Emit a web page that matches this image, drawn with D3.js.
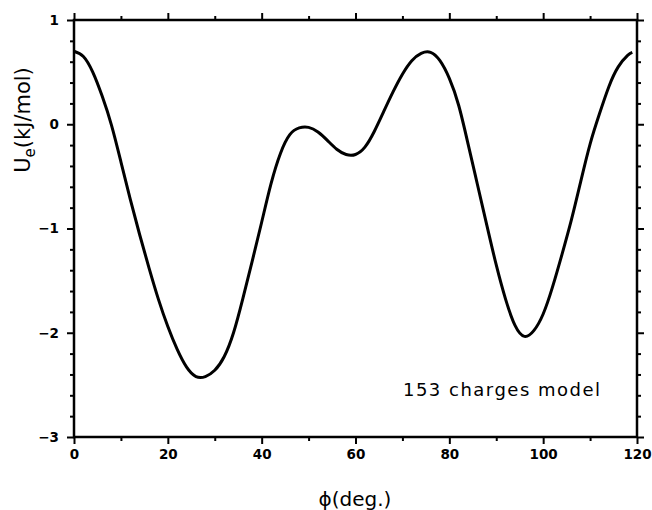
<!DOCTYPE html>
<html>
<head>
<script src="https://d3js.org/d3.v7.min.js"></script>
<style>
  body { margin: 0; background: #fff; }
  .axis text { font-family: "DejaVu Sans", sans-serif; font-weight: bold; font-size: 13.5px; fill: #000; }
  .axis line { stroke: #000; stroke-width: 2px; }
  .axis path { display: none; }
</style>
</head>
<body>
<svg class="chart"></svg>
<script>
// torsion angle (deg) and electrostatic energy (kJ/mol)
var phi = [0, 2, 4, 6, 8, 10, 12, 14, 16, 18, 20, 22, 24, 26, 28, 30, 32, 34, 36, 38, 40, 42, 44, 46, 48,
           50, 52, 54, 56, 58, 60, 62, 64, 66, 68, 70, 72, 74, 76, 78, 80, 82, 84, 86, 88, 90,
           92, 94, 96, 98, 100, 102, 104, 106, 108, 110, 112, 114, 116, 118, 119];
var energy = [0.70, 0.65, 0.50, 0.27, -0.01, -0.36, -0.72, -1.06, -1.38, -1.68, -1.94, -2.16, -2.33, -2.42,
              -2.42, -2.36, -2.23, -2.00, -1.67, -1.31, -0.94, -0.57, -0.28, -0.10, -0.035,
              -0.03, -0.075, -0.155, -0.24, -0.29, -0.29, -0.22, -0.07, 0.12, 0.31, 0.48, 0.61, 0.68,
              0.69, 0.61, 0.44, 0.18, -0.19, -0.58, -0.97, -1.35, -1.68, -1.93, -2.035,
              -1.98, -1.82, -1.56, -1.25, -0.92, -0.55, -0.19, 0.10, 0.36, 0.55, 0.66, 0.69];
var xTicks = [0, 20, 40, 60, 80, 100, 120];
var yTicks = [-3, -2, -1, 0, 1];
var label = "153 charges model";

var svgWidth = 652, svgHeight = 510,
    margin = {top: 20, right: 15, bottom: 73, left: 74},
    width = svgWidth - margin.left - margin.right,
    height = svgHeight - margin.top - margin.bottom;

var x = d3.scaleLinear().domain([0, 120]).range([0, width]);
var y = d3.scaleLinear().domain([-3, 1]).range([height, 0]);

var svg = d3.select(".chart").attr("width", svgWidth).attr("height", svgHeight);
var g = svg.append("g").attr("transform", "translate(" + margin.left + "," + margin.top + ")");

var xMinor = d3.range(10, 120, 20);
var yMinor = d3.range(-3, 1, 0.2).filter(d => Math.abs(d - Math.round(d)) > 1e-6);
var fmt = d => d < 0 ? "\u2212" + Math.abs(d) : d;

// bottom
g.append("g").attr("class", "axis").attr("transform", "translate(0," + height + ")")
  .call(d3.axisBottom(x).tickValues(xTicks).tickSize(7).tickPadding(5));
g.append("g").attr("class", "axis").attr("transform", "translate(0," + height + ")")
  .call(d3.axisBottom(x).tickValues(xMinor).tickSize(4).tickFormat(""));
// top
g.append("g").attr("class", "axis")
  .call(d3.axisTop(x).tickValues(xTicks).tickSize(7).tickFormat(""));
g.append("g").attr("class", "axis")
  .call(d3.axisTop(x).tickValues(xMinor).tickSize(4).tickFormat(""));
// left
g.append("g").attr("class", "axis")
  .call(d3.axisLeft(y).tickValues(yTicks).tickSize(7).tickPadding(8).tickFormat(fmt));
g.append("g").attr("class", "axis")
  .call(d3.axisLeft(y).tickValues(yMinor).tickSize(4).tickFormat(""));
// right
g.append("g").attr("class", "axis").attr("transform", "translate(" + width + ",0)")
  .call(d3.axisRight(y).tickValues(yTicks).tickSize(7).tickFormat(""));
g.append("g").attr("class", "axis").attr("transform", "translate(" + width + ",0)")
  .call(d3.axisRight(y).tickValues(yMinor).tickSize(4).tickFormat(""));

g.append("rect").attr("width", width).attr("height", height)
  .attr("fill", "none").attr("stroke", "#000").attr("stroke-width", 2.5);

var data = phi.map((p, i) => ({phi: p, u: energy[i]}));
var line = d3.line().x(d => x(d.phi)).y(d => y(d.u)).curve(d3.curveNatural);
g.append("path").datum(data).attr("d", line)
  .attr("fill", "none").attr("stroke", "#000").attr("stroke-width", 3).attr("stroke-linejoin", "round");

g.append("text").attr("x", 329).attr("y", 376)
  .attr("font-family", "DejaVu Sans, sans-serif").attr("font-size", 18)
  .attr("textLength", 197).attr("lengthAdjust", "spacing")
  .text(label);

// axis titles
var yt = svg.append("text")
  .attr("transform", "translate(30,120) rotate(-90)")
  .attr("text-anchor", "middle")
  .attr("font-family", "DejaVu Sans, sans-serif").attr("font-size", 21);
yt.append("tspan").text("U");
yt.append("tspan").attr("font-size", 15).attr("dy", 5).text("e");
yt.append("tspan").attr("dy", -5).text("(kJ/mol)");

svg.append("text").attr("x", 355).attr("y", 506).attr("text-anchor", "middle")
  .attr("font-family", "DejaVu Sans, sans-serif").attr("font-size", 20)
  .text("\u03d5(deg.)");
</script>
</body>
</html>
